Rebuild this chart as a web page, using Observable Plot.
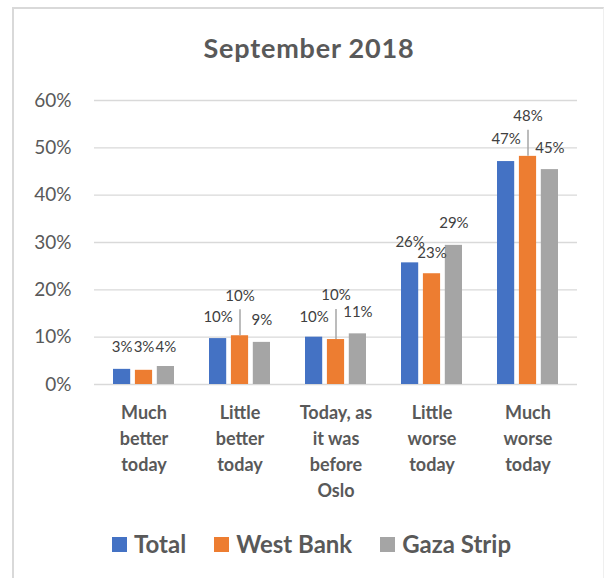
<!DOCTYPE html>
<html><head><meta charset="utf-8">
<script src="https://cdn.jsdelivr.net/npm/d3@7"></script>
<script src="https://cdn.jsdelivr.net/npm/@observablehq/plot@0.6"></script>
<style>
body{margin:0;background:#fff;}
#wrap{position:relative;width:604px;height:578px;overflow:hidden;font-family:Lato, "Open Sans", sans-serif;color:#595959;}
#frame{position:absolute;left:12px;top:7px;width:589px;height:620px;border-left:2px solid #d9d9d9;border-top:2px solid #d9d9d9;border-right:1px solid #efefef;}
#title{position:absolute;left:0;top:32px;width:618px;text-align:center;font-weight:bold;font-size:27px;letter-spacing:0.8px;line-height:32px;}
#chart{position:absolute;left:0;top:80px;}
#legend{position:absolute;left:112px;top:529px;display:flex;align-items:center;font-weight:bold;font-size:24px;line-height:30px;}
#legend .item{display:flex;align-items:center;margin-right:28px;}
#legend .sw{display:inline-block;width:15px;height:15px;margin-right:7px;}
</style>
</head><body>
<div id="wrap">
  <div id="frame"></div>
  <div id="title"></div>
  <div id="chart"></div>
  <div id="legend"></div>
</div>
<script>
const titleText = "September 2018";
const categories = ["Much better today", "Little better today", "Today, as it was before Oslo", "Little worse today", "Much worse today"];
const categoryLabels = ["Much\nbetter\ntoday", "Little\nbetter\ntoday", "Today, as\nit was\nbefore\nOslo", "Little\nworse\ntoday", "Much\nworse\ntoday"];
const series = ["Total", "West Bank", "Gaza Strip"];
const total = [3.2, 9.7, 10.0, 25.7, 47.1];
const westBank = [3.0, 10.3, 9.5, 23.4, 48.2];
const gazaStrip = [3.8, 8.9, 10.7, 29.4, 45.4];
const yTicks = [0, 10, 20, 30, 40, 50, 60];

// styling / layout (not data)
const colors = ["#4472C4", "#ED7D31", "#A5A5A5"];
const labelLift = [[22, 23, 19], [21, 40, 22], [20, 44, 22], [21, 21, 22], [22, 40, 21]];
const leaderLen = [[0, 0, 0], [0, 26, 0], [0, 30, 0], [0, 0, 0], [0, 26, 0]];
const unit = 21.9; // bar width + gap

document.getElementById("title").textContent = titleText;

const seriesValues = [total, westBank, gazaStrip];
const rows = [];
categories.forEach((cat, i) => {
  series.forEach((name, s) => {
    rows.push({cat, series: name, s, i, value: seriesValues[s][i]});
  });
});

const marks = [
  Plot.gridY(yTicks, {stroke: "#d9d9d9", strokeOpacity: 1, strokeWidth: 1.4}),
  Plot.axisY(yTicks, {tickFormat: d => d + "%", tickSize: 0, tickPadding: 23, fontSize: 19, label: null}),
  ...series.map((name, s) => Plot.barY(rows.filter(r => r.s === s), {
    x: "cat", y: "value", fill: colors[s],
    insetLeft: s * unit, insetRight: (2 - s) * unit
  })),
  Plot.text(categories, {
    x: d => d, text: (d, i) => categoryLabels[i], frameAnchor: "bottom", lineAnchor: "top",
    dy: 16, fontWeight: "bold", fontSize: 18, lineHeight: 26 / 18, fill: "#595959"
  })
];
rows.forEach(r => {
  const L = leaderLen[r.i][r.s];
  if (L > 0) {
    marks.push(Plot.ruleX([r], {x: "cat", y1: "value", y2: "value", dx: (r.s - 1) * unit,
      insetBottom: L, stroke: "#a6a6a6", strokeWidth: 1.5}));
  }
  marks.push(Plot.text([r], {
    x: "cat", y: "value", text: d => Math.round(d.value) + "%",
    dx: (r.s - 1) * unit, dy: -labelLift[r.i][r.s],
    fontSize: 15, fill: "#404040"
  }));
});

const plot = Plot.plot({
  width: 604, height: 430,
  marginTop: 20, marginBottom: 126, marginLeft: 94, marginRight: 27,
  style: {fontFamily: "Lato, 'Open Sans', sans-serif", color: "#595959", background: "transparent"},
  x: {domain: categories, type: "band", paddingInner: 0.36, paddingOuter: 0.18, axis: null},
  y: {domain: [0, 60], axis: null, label: null},
  marks
});
document.getElementById("chart").appendChild(plot);

const legend = document.getElementById("legend");
series.forEach((name, s) => {
  const item = document.createElement("span");
  item.className = "item";
  const sw = document.createElement("span");
  sw.className = "sw";
  sw.style.background = colors[s];
  const t = document.createElement("span");
  t.textContent = name;
  item.appendChild(sw); item.appendChild(t);
  legend.appendChild(item);
});
</script>
</body></html>
